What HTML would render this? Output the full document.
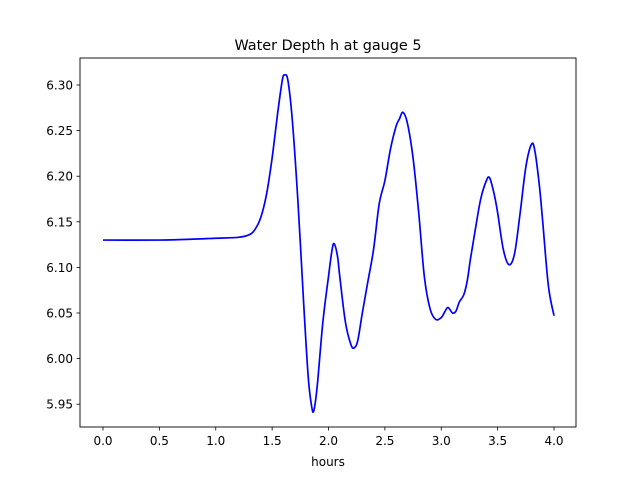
<!DOCTYPE html>
<html><head><meta charset="utf-8"><style>
body{margin:0;background:#fff;}
svg text{font-family:"DejaVu Sans","Liberation Sans",sans-serif;fill:#000;}
</style></head><body>
<svg id="chart" width="640" height="480" xmlns="http://www.w3.org/2000/svg">
<rect width="640" height="480" fill="#fff"/>
<text x="328" y="50" font-size="14.4" text-anchor="middle">Water Depth h at gauge 5</text>
<g id="xt"></g>
<g id="yt"></g>
<path id="line" fill="none" stroke="#0000ff" stroke-width="1.7" stroke-linejoin="round"/>
<rect x="80" y="58" width="496" height="369" fill="none" stroke="#000" stroke-width="0.9"/>
<text x="328" y="466" font-size="12" text-anchor="middle">hours</text>
</svg>
<script>
const hours=[0,0.5,0.8,1.0,1.2,1.3,1.35,1.4,1.45,1.5,1.55,1.59,1.61,1.64,1.68,1.73,1.78,1.82,1.85,1.87,1.9,1.95,2.0,2.03,2.05,2.08,2.1,2.15,2.2,2.23,2.26,2.3,2.35,2.4,2.45,2.5,2.55,2.6,2.63,2.66,2.7,2.75,2.8,2.85,2.9,2.95,3.0,3.03,3.06,3.1,3.13,3.16,3.2,3.23,3.26,3.3,3.35,3.4,3.43,3.47,3.5,3.55,3.6,3.65,3.7,3.75,3.8,3.83,3.87,3.9,3.95,4.0];
const depth=[6.130,6.130,6.131,6.132,6.133,6.136,6.142,6.155,6.18,6.22,6.27,6.305,6.311,6.305,6.26,6.17,6.06,5.98,5.948,5.943,5.97,6.04,6.09,6.118,6.126,6.112,6.09,6.04,6.015,6.012,6.02,6.05,6.085,6.12,6.17,6.195,6.23,6.255,6.263,6.270,6.258,6.22,6.16,6.09,6.055,6.043,6.045,6.051,6.056,6.05,6.052,6.062,6.07,6.085,6.11,6.14,6.175,6.195,6.198,6.18,6.16,6.12,6.103,6.115,6.16,6.21,6.235,6.228,6.19,6.15,6.08,6.047];
const xTicks=[0,0.5,1,1.5,2,2.5,3,3.5,4];
const yTicks=[5.95,6.00,6.05,6.10,6.15,6.20,6.25,6.30];
const X=t=>103+t*112.75;
const Y=v=>85+(6.30-v)*912;
const NS="http://www.w3.org/2000/svg";
const xt=document.getElementById('xt'),yt=document.getElementById('yt');
xTicks.forEach(t=>{
 const l=document.createElementNS(NS,'line');
 
 
 l.setAttribute('x1',X(t));l.setAttribute('x2',X(t));l.setAttribute('y1',427);l.setAttribute('y2',430.5);l.setAttribute('stroke','#000');l.setAttribute('stroke-width','0.8');
 xt.appendChild(l);
 const s=document.createElementNS(NS,'text');
 
 
 s.setAttribute('x',X(t));s.setAttribute('y',445);s.setAttribute('font-size','12');s.setAttribute('text-anchor','middle');
 s.textContent=t.toFixed(1);xt.appendChild(s);
});
yTicks.forEach(v=>{
 const l=document.createElementNS(NS,'line');
 
 
 l.setAttribute('x1',76.5);l.setAttribute('x2',80);l.setAttribute('y1',Y(v));l.setAttribute('y2',Y(v));l.setAttribute('stroke','#000');l.setAttribute('stroke-width','0.8');
 yt.appendChild(l);
 const s=document.createElementNS(NS,'text');
 
 
 s.setAttribute('x',73);s.setAttribute('y',Y(v)+4.5);s.setAttribute('font-size','12');s.setAttribute('text-anchor','end');
 s.textContent=v.toFixed(2);yt.appendChild(s);
});
const P=hours.map((t,i)=>[X(t),Y(depth[i])]);
let d='M'+P[0][0]+','+P[0][1];
for(let i=0;i<P.length-1;i++){
 const p0=P[i-1]||P[i],p1=P[i],p2=P[i+1],p3=P[i+2]||P[i+1];
 const c1=[p1[0]+(p2[0]-p0[0])/6,p1[1]+(p2[1]-p0[1])/6];
 const c2=[p2[0]-(p3[0]-p1[0])/6,p2[1]-(p3[1]-p1[1])/6];
 d+=' C'+c1+' '+c2+' '+p2;
}
document.getElementById('line').setAttribute('d',d);
</script>
</body></html>
